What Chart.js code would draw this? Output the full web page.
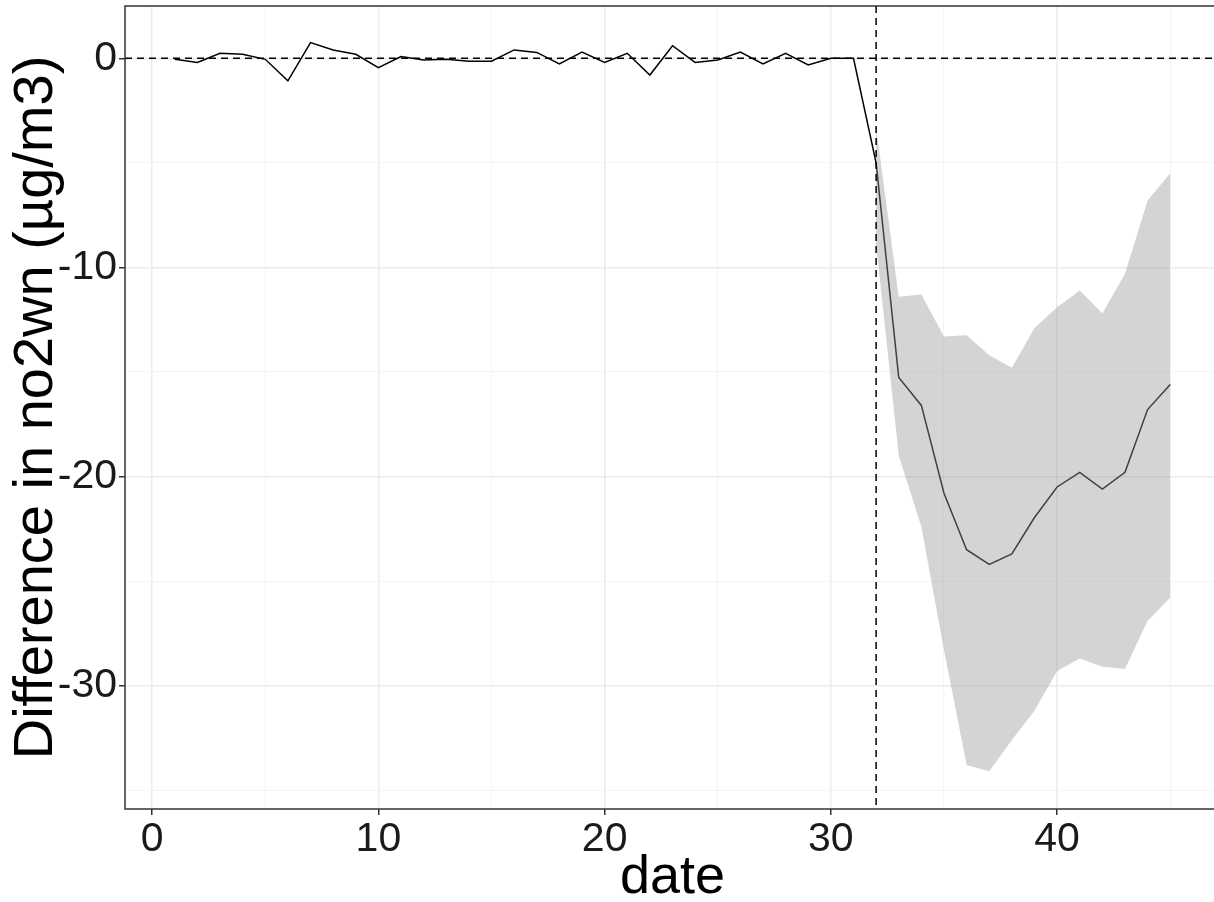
<!DOCTYPE html>
<html>
<head>
<meta charset="utf-8">
<script src="https://cdn.jsdelivr.net/npm/chart.js@4/dist/chart.umd.min.js"></script>
<style>
  html, body { margin: 0; padding: 0; background: #fff; overflow: hidden; }
  #wrap { width: 1222px; height: 902px; position: relative; }
</style>
</head>
<body>
<div id="wrap"><canvas id="myChart"></canvas></div>
<script>
// day index and estimated difference (µg/m3)
const dates = [1,2,3,4,5,6,7,8,9,10,11,12,13,14,15,16,17,18,19,20,21,22,23,24,25,26,27,28,29,30,31,32,33,34,35,36,37,38,39,40,41,42,43,44,45];
const diffVals = [-0.05,-0.2,0.24,0.19,-0.05,-1.08,0.75,0.4,0.19,-0.45,0.08,-0.08,-0.05,-0.14,-0.14,0.4,0.28,-0.27,0.3,-0.2,0.24,-0.8,0.6,-0.2,-0.08,0.3,-0.27,0.24,-0.32,0,0,
                  -5.0,-15.26,-16.6,-20.8,-23.5,-24.2,-23.7,-21.96,-20.5,-19.8,-20.6,-19.8,-16.8,-15.6];
// confidence band, only after the intervention
const bandDates = [32,33,34,35,36,37,38,39,40,41,42,43,44,45];
const bandUpper = [-3.3,-11.4,-11.3,-13.3,-13.25,-14.2,-14.8,-12.9,-11.9,-11.1,-12.2,-10.3,-6.8,-5.5];
const bandLower = [-8.9,-19.0,-22.4,-28.3,-33.8,-34.1,-32.6,-31.2,-29.3,-28.7,-29.1,-29.2,-26.9,-25.8];
// labelled ticks, and all grid positions (major + minor)
const xTicks = [0,10,20,30,40];
const xGrid = [0,5,10,15,20,25,30,35,40,45];
const yTicks = [0,-10,-20,-30];
const yGrid = [-35,-30,-25,-20,-15,-10,-5,0];
const refLineY = 0;
const refLineX = 32;

const toPts = (xs, ys) => xs.map((x, i) => ({x: x, y: ys[i]}));

// dashed reference lines + panel frame
const refLines = {
  id: 'refLines',
  afterDatasetsDraw(chart) {
    const {ctx, chartArea, scales} = chart;
    const yz = scales.y.getPixelForValue(refLineY);
    const xv = scales.x.getPixelForValue(refLineX);
    ctx.save();
    ctx.strokeStyle = '#000';
    ctx.lineWidth = 1.5;
    ctx.setLineDash([7, 5]);
    ctx.beginPath();
    ctx.moveTo(chartArea.left, yz);
    ctx.lineTo(chartArea.right, yz);
    ctx.moveTo(xv, chartArea.top);
    ctx.lineTo(xv, chartArea.bottom);
    ctx.stroke();
    ctx.setLineDash([]);
    ctx.strokeStyle = '#333';
    ctx.lineWidth = 1.5;
    ctx.strokeRect(chartArea.left, chartArea.top, chartArea.right - chartArea.left, chartArea.bottom - chartArea.top);
    ctx.restore();
  }
};

const isMajor = (c, list) => c.tick && list.includes(c.tick.value);

const ctx = document.getElementById('myChart').getContext('2d');
const myChart = new Chart(ctx, {
  type: 'line',
  data: {
    datasets: [
      {
        label: 'upper',
        data: toPts(bandDates, bandUpper),
        borderWidth: 0,
        pointRadius: 0,
        backgroundColor: 'rgba(153,153,153,0.42)',
        fill: '+1'
      },
      {
        label: 'lower',
        data: toPts(bandDates, bandLower),
        borderWidth: 0,
        pointRadius: 0,
        fill: false
      },
      {
        label: 'diff',
        data: toPts(dates, diffVals),
        borderColor: '#000',
        borderWidth: 1.5,
        pointRadius: 0,
        fill: false
      }
    ]
  },
  options: {
    responsive: true,
    maintainAspectRatio: false,
    animation: false,
    layout: { padding: { top: 6, right: 2, left: 0, bottom: 0 } },
    elements: { line: { tension: 0 } },
    plugins: {
      legend: { display: false },
      tooltip: { enabled: false }
    },
    scales: {
      x: {
        type: 'linear',
        min: -1.2,
        max: 47.2,
        afterBuildTicks(scale) { scale.ticks = xGrid.map(v => ({value: v})); },
        afterFit(scale) { scale.height = 93; scale.paddingLeft = 0; scale.paddingRight = 0; },
        ticks: {
          autoSkip: false,
          maxRotation: 0,
          padding: 0,
          color: '#1a1a1a',
          font: { family: 'Liberation Sans, Arial', size: 41 },
          callback: (v) => xTicks.includes(v) ? String(v) : ''
        },
        grid: {
          color: (c) => isMajor(c, xTicks) ? '#EBEBEB' : '#F4F4F4',
          lineWidth: (c) => isMajor(c, xTicks) ? 1.5 : 1,
          tickColor: (c) => isMajor(c, xTicks) ? '#333' : 'rgba(0,0,0,0)',
          tickLength: 6
        },
        border: { display: false },
        title: {
          display: true,
          text: 'date',
          color: '#000',
          font: { family: 'Liberation Sans, Arial', size: 54, lineHeight: 0.8 },
          padding: { top: 0, bottom: 2 }
        }
      },
      y: {
        min: -35.9,
        max: 2.5,
        afterBuildTicks(scale) { scale.ticks = yGrid.map(v => ({value: v})); },
        afterFit(scale) { scale.width = 125; scale.paddingTop = 0; scale.paddingBottom = 0; },
        ticks: {
          autoSkip: false,
          padding: 2,
          color: '#1a1a1a',
          font: { family: 'Liberation Sans, Arial', size: 41 },
          callback: (v) => yTicks.includes(v) ? String(v) : ''
        },
        grid: {
          color: (c) => isMajor(c, yTicks) ? '#EBEBEB' : '#F4F4F4',
          lineWidth: (c) => isMajor(c, yTicks) ? 1.5 : 1,
          tickColor: (c) => isMajor(c, yTicks) ? '#333' : 'rgba(0,0,0,0)',
          tickLength: 6
        },
        border: { display: false },
        title: {
          display: true,
          text: 'Difference in no2wn (µg/m3)',
          color: '#000',
          font: { family: 'Liberation Sans, Arial', size: 56 },
          padding: { top: 3, bottom: 0 }
        }
      }
    }
  },
  plugins: [refLines]
});
</script>
</body>
</html>
